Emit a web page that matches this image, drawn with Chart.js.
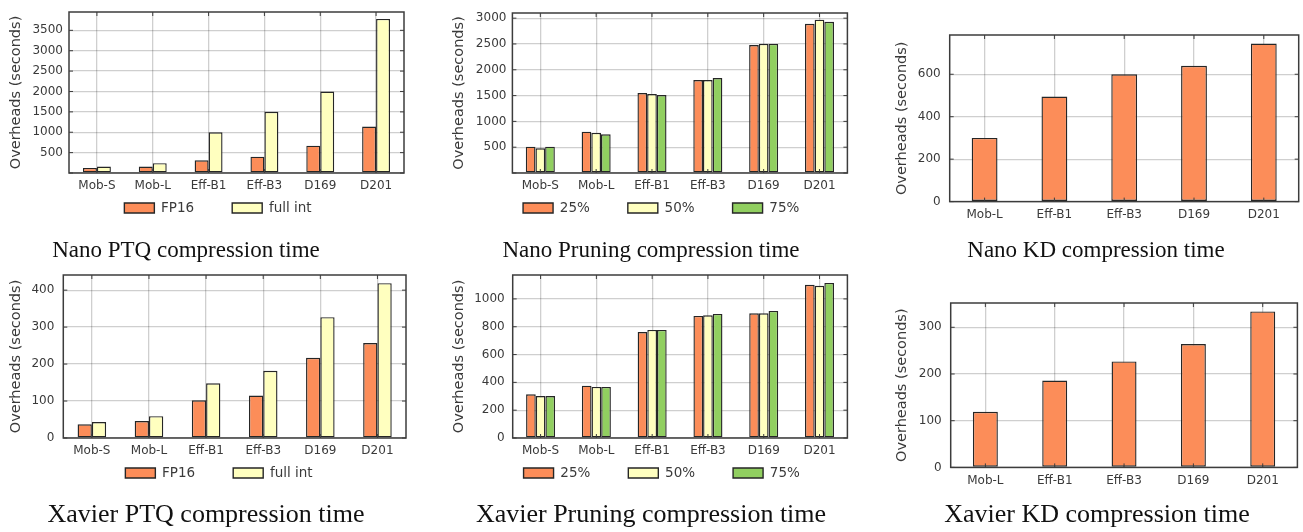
<!DOCTYPE html>
<html>
<head>
<meta charset="utf-8">
<script src="https://cdn.jsdelivr.net/npm/chart.js@4.4.1/dist/chart.umd.min.js"></script>
<style>
  html, body { margin: 0; padding: 0; background: #fff; }
  body { width: 1303px; height: 532px; position: relative; overflow: hidden; }
  canvas { position: absolute; }
  .cap { position: absolute; font-family: 'Liberation Serif', 'Times New Roman', serif; color: #111;
         white-space: nowrap; transform: translateX(-50%); line-height: 1; }
</style>
</head>
<body>
<script>
// categories
const ptqModels = ['Mob-S', 'Mob-L', 'Eff-B1', 'Eff-B3', 'D169', 'D201'];
const kdModels = ['Mob-L', 'Eff-B1', 'Eff-B3', 'D169', 'D201'];
const ptqSeries = ['FP16', 'full int'];
const pruneSeries = ['25%', '50%', '75%'];

// Nano (seconds)
const nanoPtqFp16 = [125, 160, 310, 400, 670, 1140];
const nanoPtqFullInt = [160, 240, 1000, 1500, 2000, 3780];
const nanoPrune25 = [510, 800, 1550, 1800, 2480, 2890];
const nanoPrune50 = [480, 780, 1530, 1800, 2500, 2970];
const nanoPrune75 = [510, 750, 1510, 1840, 2500, 2930];
const nanoKd = [300, 495, 600, 640, 745];

// Xavier (seconds)
const xavPtqFp16 = [37, 46, 102, 115, 217, 257];
const xavPtqFullInt = [43, 59, 148, 182, 327, 419];
const xavPrune25 = [314, 376, 762, 878, 897, 1101];
const xavPrune50 = [302, 367, 777, 882, 897, 1094];
const xavPrune75 = [302, 367, 777, 892, 914, 1115];
const xavKd = [119, 186, 227, 264, 334];

const captions = [
  ['Nano PTQ compression time', 186, 257, 23],
  ['Nano Pruning compression time', 651, 257, 23],
  ['Nano KD compression time', 1096, 257, 23],
  ['Xavier PTQ compression time', 206, 523, 26],
  ['Xavier Pruning compression time', 651, 523, 26],
  ['Xavier KD compression time', 1097, 523, 26]
];

const ORANGE = '#fc8d59', YELLOW = '#ffffbf', GREEN = '#91cf60';
const FONT = "'DejaVu Sans', sans-serif";
const TEXT = '#3a3a3a';
const GRID = 'rgba(0,0,0,0.19)';
const LEG_FS = 13.5, LEG_PAD = 38, X_H = 20;

// frame with inward ticks on all four sides, like the matplotlib classic axes
const framePlugin = {
  id: 'frame',
  afterDatasetsDraw(chart) {
    const {ctx, chartArea: a, scales: {x, y}} = chart;
    ctx.save();
    ctx.strokeStyle = '#3c3c3c';
    ctx.lineWidth = 1;
    ctx.beginPath();
    x.ticks.forEach((t, i) => {
      const px = x.getPixelForTick(i);
      ctx.moveTo(px, a.bottom); ctx.lineTo(px, a.bottom - 4);
      ctx.moveTo(px, a.top); ctx.lineTo(px, a.top + 4);
    });
    y.ticks.forEach(t => {
      const py = y.getPixelForValue(t.value);
      ctx.moveTo(a.left, py); ctx.lineTo(a.left + 4, py);
      ctx.moveTo(a.right, py); ctx.lineTo(a.right - 4, py);
    });
    ctx.stroke();
    ctx.lineWidth = 1.5;
    ctx.strokeRect(a.left, a.top, a.right - a.left, a.bottom - a.top);
    ctx.restore();
  }
};

// put the legend row where the reference has it
const legendPlace = {
  id: 'legendPlace',
  afterLayout(chart, args, opts) {
    const lg = chart.legend;
    if (!lg || opts.cy === undefined) return;
    const w = lg.width, h = lg.height;
    lg.left = opts.cx - w / 2; lg.right = opts.cx + w / 2;
    lg.top = opts.cy - LEG_PAD - LEG_FS / 2; lg.bottom = lg.top + h;
  }
};

function makeChart(spec) {
  const [ax0, ay0, ax1, ay1] = spec.area;
  const left = spec.titleX - 16.7;
  const top = ay0 - 8;
  const legH = spec.legend ? LEG_FS + LEG_PAD + 10 : 0;
  const W = Math.ceil(ax1 - left + 4);
  const H = Math.ceil(ay1 - top + X_H + legH + 2);
  const padRight = W - (ax1 - left);
  const padBottom = H - (ay1 - top) - X_H - legH;

  const cv = document.createElement('canvas');
  cv.width = W; cv.height = H;
  cv.style.left = left + 'px'; cv.style.top = top + 'px';
  document.body.appendChild(cv);

  const step = spec.step;
  new Chart(cv.getContext('2d'), {
    type: 'bar',
    data: {
      labels: spec.labels,
      datasets: spec.series.map((s, i) => ({
        label: s,
        data: spec.values[i],
        backgroundColor: spec.colors[i],
        borderColor: '#262626',
        borderWidth: 1.4,
        borderSkipped: false,
        categoryPercentage: spec.catPct,
        barPercentage: 1
      }))
    },
    options: {
      responsive: false,
      animation: false,
      devicePixelRatio: 1,
      layout: { padding: { left: 0, top: 8, right: padRight, bottom: padBottom } },
      plugins: {
        legend: {
          display: !!spec.legend,
          position: 'bottom',
          labels: { boxWidth: 30, boxHeight: 10, padding: LEG_PAD, color: TEXT,
                    font: { family: FONT, size: LEG_FS } }
        },
        tooltip: { enabled: false },
        legendPlace: spec.legend ? { cx: spec.legend[0] - left, cy: spec.legend[1] - top } : {}
      },
      scales: {
        x: {
          offset: true,
          grid: { offset: false, color: GRID, lineWidth: 1.3, drawTicks: false },
          border: { display: false },
          ticks: { color: TEXT, font: { family: FONT, size: 12 }, padding: spec.xPad,
                   maxRotation: 0, autoSkip: false },
          afterFit: s => { s.height = X_H; s.paddingLeft = 0; s.paddingRight = 0; }
        },
        y: {
          min: 0,
          max: spec.max,
          grid: { color: GRID, lineWidth: 1.3, drawTicks: false },
          border: { display: false },
          afterBuildTicks: s => {
            const t = [];
            for (let v = 0; v <= spec.max; v += step) t.push({ value: v });
            s.ticks = t;
          },
          ticks: {
            autoSkip: false,
            color: TEXT,
            font: { family: FONT, size: 12 },
            padding: spec.yPad,
            callback: v => (spec.hideZero && v === 0) ? '' : v
          },
          title: { display: true, text: 'Overheads (seconds)', color: TEXT,
                   font: { family: FONT, size: 14.5 }, padding: { top: 8, bottom: 0 } },
          afterFit: s => { s.width = ax0 - left; s.paddingTop = 0; s.paddingBottom = 0; }
        }
      }
    },
    plugins: [framePlugin, legendPlace]
  });
}

makeChart({ area: [69, 12, 404, 173], titleX: 16.7, labels: ptqModels, series: ptqSeries,
  values: [nanoPtqFp16, nanoPtqFullInt], colors: [ORANGE, YELLOW], catPct: 0.5,
  max: 3950, step: 500, hideZero: true, xPad: 6, yPad: 6, legend: [218, 208] });
makeChart({ area: [512.7, 13, 847.7, 173], titleX: 460, labels: ptqModels, series: pruneSeries,
  values: [nanoPrune25, nanoPrune50, nanoPrune75], colors: [ORANGE, YELLOW, GREEN], catPct: 0.52,
  max: 3100, step: 500, hideZero: true, xPad: 6, yPad: 6, legend: [661.5, 208] });
makeChart({ area: [950, 34.7, 1299, 201.3], titleX: 903, labels: kdModels, series: ['KD'],
  values: [nanoKd], colors: [ORANGE], catPct: 0.37,
  max: 785, step: 200, xPad: 6.5, yPad: 9 });
makeChart({ area: [63.3, 275, 406, 438], titleX: 16.7, labels: ptqModels, series: ptqSeries,
  values: [xavPtqFp16, xavPtqFullInt], colors: [ORANGE, YELLOW], catPct: 0.5,
  max: 441, step: 100, xPad: 6, yPad: 9, legend: [219, 473] });
makeChart({ area: [513, 275, 847.7, 438], titleX: 460, labels: ptqModels, series: pruneSeries,
  values: [xavPrune25, xavPrune50, xavPrune75], colors: [ORANGE, YELLOW, GREEN], catPct: 0.52,
  max: 1172, step: 200, xPad: 6, yPad: 8, legend: [662, 473] });
makeChart({ area: [951, 303.3, 1297.7, 467.7], titleX: 903, labels: kdModels, series: ['KD'],
  values: [xavKd], colors: [ORANGE], catPct: 0.36,
  max: 352, step: 100, xPad: 6.5, yPad: 9 });

captions.forEach(([text, cx, baseline, size]) => {
  const d = document.createElement('div');
  d.className = 'cap';
  d.textContent = text;
  d.style.fontSize = size + 'px';
  d.style.left = cx + 'px';
  d.style.top = (baseline - 0.8375 * size) + 'px';
  document.body.appendChild(d);
});
</script>
</body>
</html>
